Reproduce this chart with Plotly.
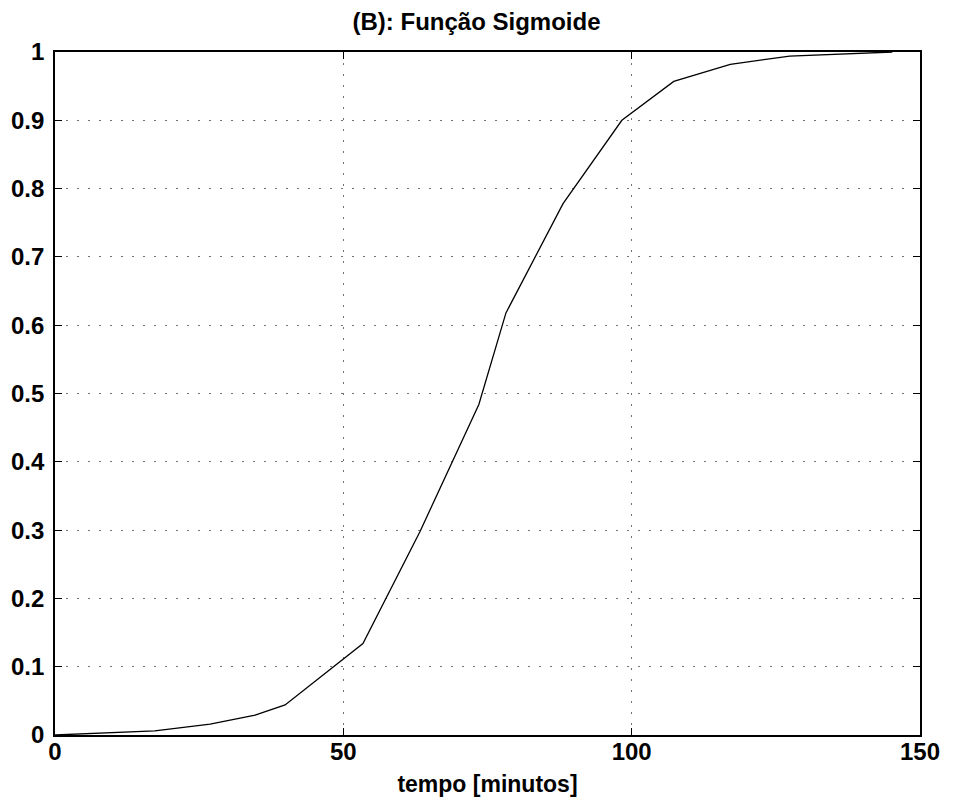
import plotly.graph_objects as go

tempo = [0, 17.3, 26.9, 34.7, 39.9, 53.4, 63.3, 73.5, 78.2, 88.1, 98.3, 107.3, 117.1, 127.4, 145.2]
sigmoide = [0.0, 0.006, 0.016, 0.029, 0.044, 0.134, 0.298, 0.484, 0.618, 0.778, 0.900, 0.957, 0.982, 0.994, 1.0]

x_ticks = [0, 50, 100, 150]
y_ticks = [0, 0.1, 0.2, 0.3, 0.4, 0.5, 0.6, 0.7, 0.8, 0.9, 1]
y_labels = ["0", "0.1", "0.2", "0.3", "0.4", "0.5", "0.6", "0.7", "0.8", "0.9", "1"]

fig = go.Figure()
fig.add_trace(go.Scatter(x=tempo, y=sigmoide, mode="lines",
                         line=dict(color="black", width=1.3), showlegend=False))

font_family = "Liberation Sans, Arial, sans-serif"
fig.update_layout(
    width=953, height=807,
    margin=dict(l=55, r=33, t=52, b=72),
    paper_bgcolor="white", plot_bgcolor="white",
    font=dict(family=font_family, color="black", size=24),
    title=dict(text="<b>(B): Função Sigmoide</b>", x=0.5, xanchor="center",
               y=1 - 22 / 807, yanchor="middle", font=dict(size=24, color="black")),
)
grid = dict(showgrid=True, gridcolor="rgba(0,0,0,0.55)", griddash="2px,9px", gridwidth=1.2,
            showline=True, linecolor="black", linewidth=1.8, mirror="ticks",
            ticks="inside", ticklen=7, tickcolor="black", tickwidth=1.2,
            zeroline=False, tickfont=dict(size=24, family=font_family, weight="bold"))
fig.update_xaxes(
    range=[0, 150], tickvals=x_ticks, ticktext=[str(v) for v in x_ticks],
    title=dict(text="<b>tempo [minutos]</b>", font=dict(size=23), standoff=12),
    ticklabelstandoff=-6, **grid,
)
fig.update_yaxes(
    range=[0, 1], tickvals=y_ticks, ticktext=y_labels,
    ticklabelstandoff=4, **grid,
)
fig.write_html("out.html")
